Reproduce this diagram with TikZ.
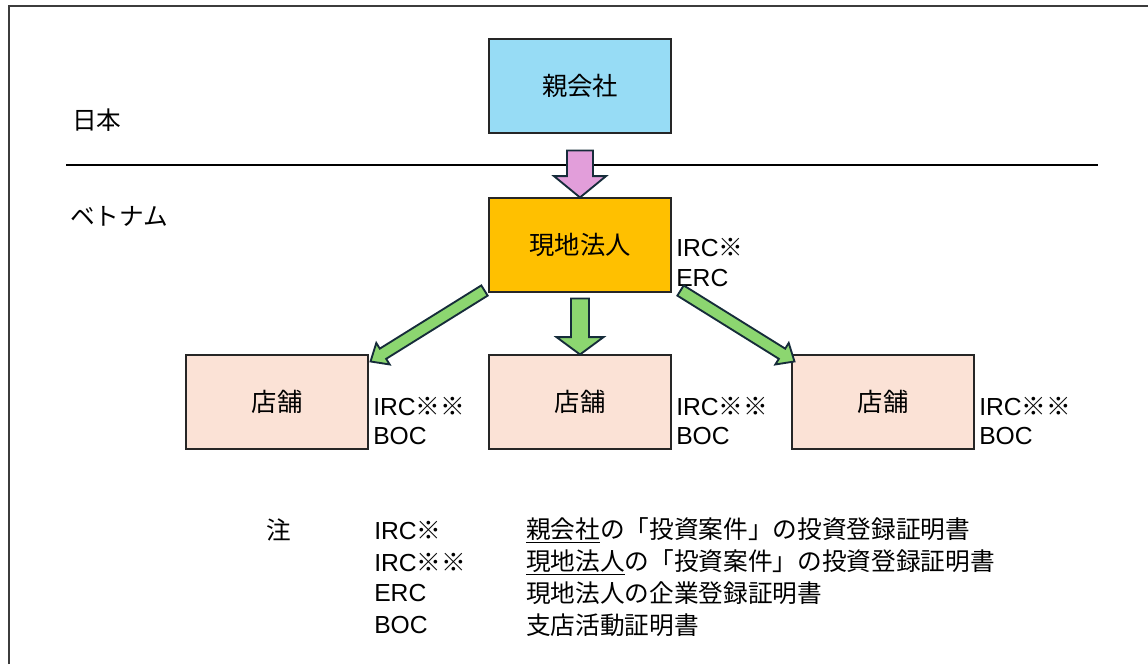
\documentclass[tikz,border=0pt]{standalone}
\usepackage{fontspec}
\setmainfont{Liberation Sans}
\newfontfamily\jp{Noto Sans CJK JP}
\usetikzlibrary{calc}
\definecolor{oyablue}{RGB}{151,220,245}
\definecolor{genchi}{RGB}{255,192,0}
\definecolor{store}{RGB}{251,226,214}
\definecolor{pinkarr}{RGB}{226,158,218}
\definecolor{greenarr}{RGB}{140,214,112}
\definecolor{arrline}{RGB}{22,44,58}
\definecolor{frameline}{RGB}{60,60,60}
% from, to, half shaft, half head, head length, style
\newcommand\blkarrow[6]{%
  \coordinate (ba-h) at ($(#2)!#5!(#1)$);
  \path[#6] ($(#1)!#3!90:(#2)$) -- ($(ba-h)!#3!90:(#2)$) -- ($(ba-h)!#4!90:(#2)$)
    -- (#2) -- ($(ba-h)!#4!-90:(#2)$) -- ($(ba-h)!#3!-90:(#2)$) -- ($(#1)!#3!-90:(#2)$) -- cycle;
}
\tikzset{
  box/.style={draw=black!85, line width=0.8pt, minimum width=136.5pt, minimum height=70.5pt, inner sep=0pt, font=\fontsize{19}{23}\selectfont},
  lbl/.style={anchor=west, inner sep=0pt, font=\fontsize{18.5}{22}\selectfont},
  blk/.style={draw=arrline, line width=1.4pt, line join=miter, fill=#1},
}
\begin{document}
\begin{tikzpicture}[x=0.75pt, y=-0.75pt]
\useasboundingbox (0,0) rectangle (1148,664);
% frame
\draw[frameline, line width=1.1pt] (9,664) -- (9,6) -- (1148,6);
\draw[black, line width=1pt] (66,165) -- (1098,165);
\node[lbl] (jp) at (72,120) {{\jp 日本}};
\node[lbl] (vn) at (70,216) {{\jp ベトナム}};
% boxes
\node[box, fill=oyablue] (oya) at (580,86) {\raisebox{1pt}{\jp 親会社}};
\node[box, fill=genchi] (gen) at (580,245) {\raisebox{1pt}{\jp 現地法人}};
\node[box, fill=store] (s1) at (277,402) {{\jp 店舗}};
\node[box, fill=store] (s2) at (580,402) {{\jp 店舗}};
\node[box, fill=store] (s3) at (883,402) {{\jp 店舗}};
% side labels
\node[lbl] (g1) at (676,247) {IRC{\jp ※}};
\node[lbl] (g2) at (676,278) {ERC};
\node[lbl] (a1) at (373,406) {IRC{\jp ※※}};
\node[lbl] (a2) at (373,436) {BOC};
\node[lbl] (b1) at (676,406) {IRC{\jp ※※}};
\node[lbl] (b2) at (676,436) {BOC};
\node[lbl] (c1) at (979,406) {IRC{\jp ※※}};
\node[lbl] (c2) at (979,436) {BOC};
% arrows
\coordinate (pa) at ($(oya.south)+(0,17)$);
\blkarrow{pa}{gen.north}{9.75pt}{19.5pt}{16pt}{blk=pinkarr}
\coordinate (ga) at ($(gen.south)+(0,6)$);
\blkarrow{ga}{s2.north}{6.75pt}{17.6pt}{13pt}{blk=greenarr}
\coordinate (la) at ($(gen.south west)+(-4,-2)$);
\coordinate (lb) at ($(s1.north east)+(2,7)$);
\blkarrow{la}{lb}{4.5pt}{9.5pt}{11pt}{blk=greenarr}
\coordinate (ra) at ($(gen.south east)+(9,-2)$);
\coordinate (rb) at ($(s3.north west)+(3,7)$);
\blkarrow{ra}{rb}{4.5pt}{9.5pt}{11pt}{blk=greenarr}
% legend
\node[lbl] (n0) at (266,530) {{\jp 注}};
\node[lbl] (n1) at (374,530) {IRC{\jp ※}};
\node[lbl] (n2) at (374,562) {IRC{\jp ※※}};
\node[lbl] (n3) at (374,593) {ERC};
\node[lbl] (n4) at (374,625) {BOC};
\node[lbl] (d1) at (526,530) {\jp \underline{親会社}の「投資案件」の投資登録証明書};
\node[lbl] (d2) at (526,562) {\jp \underline{現地法人}の「投資案件」の投資登録証明書};
\node[lbl] (d3) at (526,593) {\jp 現地法人の企業登録証明書};
\node[lbl] (d4) at (526,625) {\jp 支店活動証明書};
\end{tikzpicture}
\end{document}
